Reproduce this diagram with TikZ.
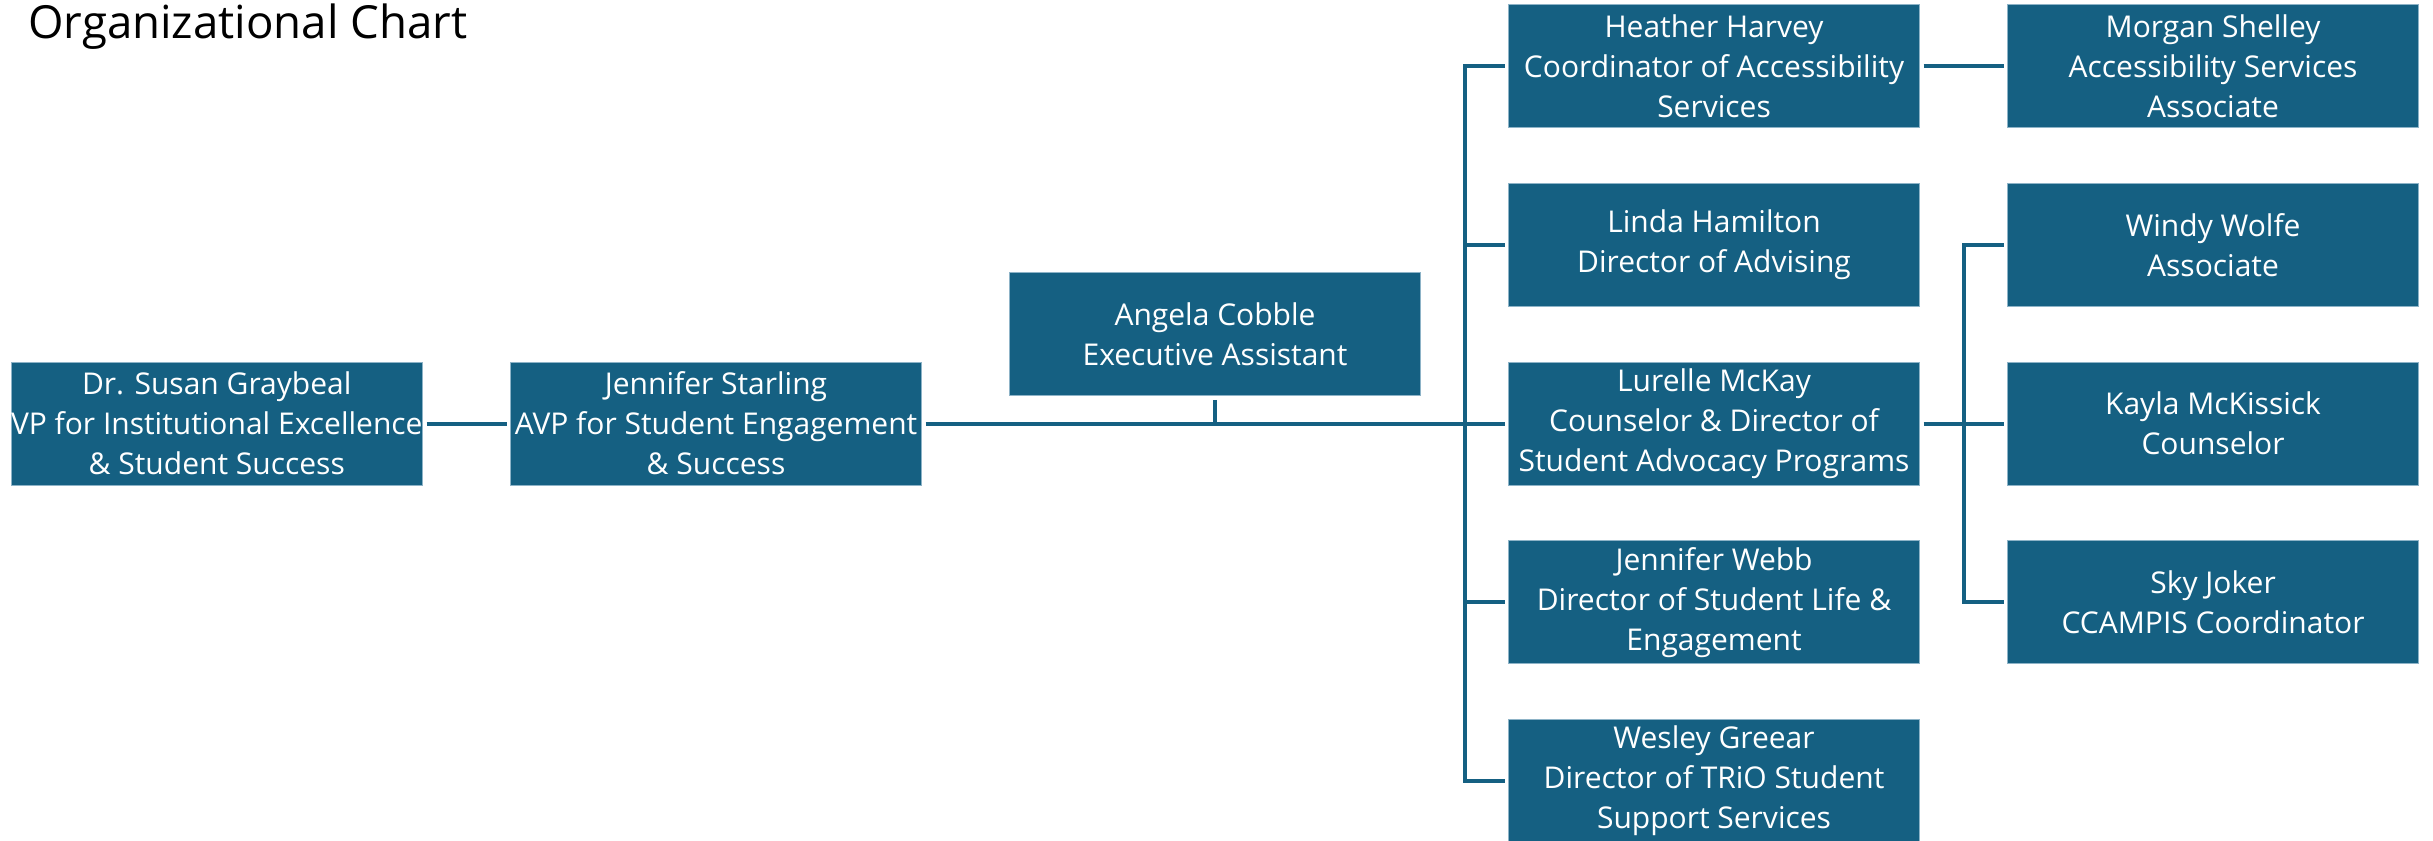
\documentclass[tikz,border=0pt]{standalone}
\usepackage{fontspec}
\setmainfont{Open Sans}
\usepackage{tikz}
\usetikzlibrary{positioning,calc}
\definecolor{boxteal}{HTML}{156082}
\definecolor{edgeteal}{HTML}{8DB3C7}
\tikzstyle{link} = [line width=2pt, draw=boxteal]

\begin{document}
\begin{tikzpicture}[
    role/.style={rectangle, draw=edgeteal, line width=0.5pt, fill=boxteal,
                 minimum width=205.5pt, minimum height=61.5pt, inner sep=0pt,
                 outer sep=2pt, align=center, text=white,
                 font=\fontsize{15}{20}\selectfont},
    heading/.style={anchor=base west, inner sep=0pt,
                 font=\fontsize{22.8}{26}\selectfont},
    node distance=23.9pt and 40pt
]
\useasboundingbox (0,0) rectangle (1216.5pt,-420.5pt);
\node[heading] (chart) at (14pt,-19pt) {Organizational Chart};
\node[role, anchor=north west] (graybeal) at (3.5pt,-179pt) {Dr. Susan Graybeal\\VP for Institutional Excellence\\\& Student Success};
\node[role, right=of graybeal] (starling) {Jennifer Starling\\AVP for Student Engagement\\\& Success};
\node[role, right=of starling, yshift=44.6pt] (cobble) {Angela Cobble\\Executive Assistant};
\node[role, right=of cobble, yshift=-44.6pt] (mckay) {Lurelle McKay\\Counselor \& Director of\\Student Advocacy Programs};
\node[role, above=of mckay] (hamilton) {Linda Hamilton\\Director of Advising};
\node[role, above=of hamilton] (harvey) {Heather Harvey\\Coordinator of Accessibility\\Services};
\node[role, below=of mckay] (webb) {Jennifer Webb\\Director of Student Life \&\\Engagement};
\node[role, below=of webb] (greear) {Wesley Greear\\Director of TRiO Student\\Support Services};
\node[role, right=of harvey] (shelley) {Morgan Shelley\\Accessibility Services\\Associate};
\node[role, right=of hamilton] (wolfe) {Windy Wolfe\\Associate};
\node[role, right=of mckay] (mckissick) {Kayla McKissick\\Counselor};
\node[role, right=of webb] (joker) {Sky Joker\\CCAMPIS Coordinator};
\coordinate (busa) at ($(harvey.west)+(-20pt,0)$);
\coordinate (busb) at ($(wolfe.west)+(-20pt,0)$);
\draw[link] (graybeal) -- (starling);
\draw[link] (starling) -- (mckay);
\draw[link] (cobble) -- (cobble |- starling);
\draw[link] (harvey.west) -- (busa) |- (greear.west);
\draw[link] (hamilton.west) -- (hamilton.west -| busa);
\draw[link] (webb.west) -- (webb.west -| busa);
\draw[link] (harvey) -- (shelley);
\draw[link] (mckay) -- (mckissick);
\draw[link] (wolfe.west) -- (busb) |- (joker.west);
\end{tikzpicture}
\end{document}
